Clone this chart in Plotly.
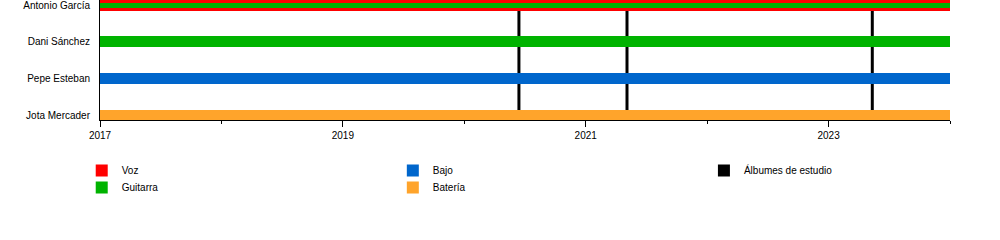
import plotly.graph_objects as go

# ---- data ----
members = ["Antonio García", "Dani Sánchez", "Pepe Esteban", "Jota Mercader"]
roles = ["Voz", "Guitarra", "Bajo", "Batería"]
voz_members = ["Antonio García"]
guitarra_members = ["Antonio García", "Dani Sánchez"]
bajo_members = ["Pepe Esteban"]
bateria_members = ["Jota Mercader"]
period_start = 2017.0
period_end = 2024.0
albums = [2020.45, 2021.34, 2023.36]
album_label = "Álbumes de estudio"
year_ticks = [2017, 2019, 2021, 2023]

colors = {"Voz": "#FF0000", "Guitarra": "#00B300", "Bajo": "#0066CC", "Batería": "#FFA42B"}

ypos = {m: len(members) - 1 - i for i, m in enumerate(members)}
FONT = dict(family="Liberation Sans, Arial, sans-serif", size=10, color="black")

BAR_W = 0.30
INNER_W = 0.128

fig = go.Figure()


def add_role(role, mlist, legend):
    widths = []
    for m in mlist:
        # second role of a member is drawn as a thin inner stripe
        if role == "Guitarra" and m in voz_members:
            widths.append(INNER_W)
        else:
            widths.append(BAR_W)
    fig.add_trace(go.Bar(
        name=role, orientation="h",
        y=[ypos[m] for m in mlist],
        base=[period_start] * len(mlist),
        x=[period_end - period_start] * len(mlist),
        width=widths,
        marker=dict(color=colors[role], line=dict(width=0)),
        legend=legend, hoverinfo="skip",
    ))


add_role("Voz", voz_members, "legend")
add_role("Guitarra", guitarra_members, "legend2")
add_role("Bajo", bajo_members, "legend3")
add_role("Batería", bateria_members, "legend4")
fig.add_trace(go.Bar(name=album_label, orientation="h", x=[None], y=[None],
                     marker=dict(color="black", line=dict(width=0)), legend="legend5"))

for a in albums:
    fig.add_shape(type="line", x0=a, x1=a, xref="x", y0=0, y1=1, yref="paper",
                  line=dict(color="black", width=3), layer="below")

leg_common = dict(orientation="v", yanchor="top", xanchor="left", font=FONT,
                  bgcolor="rgba(0,0,0,0)", itemwidth=30, tracegroupgap=0,
                  itemclick=False, itemdoubleclick=False)

ROW1 = -0.30
ROW2 = -0.4417
COL1, COL2, COL3 = -0.0215, 0.3445, 0.7105

fig.update_layout(
    width=1000, height=240,
    margin=dict(l=100, r=50, t=0, b=120),
    paper_bgcolor="white", plot_bgcolor="white",
    barmode="overlay", bargap=0,
    font=FONT,
    showlegend=True,
    legend=dict(x=COL1, y=ROW1, **leg_common),
    legend2=dict(x=COL1, y=ROW2, **leg_common),
    legend3=dict(x=COL2, y=ROW1, **leg_common),
    legend4=dict(x=COL2, y=ROW2, **leg_common),
    legend5=dict(x=COL3, y=ROW1, **leg_common),
    xaxis=dict(range=[period_start, period_end], tickvals=year_ticks,
               ticktext=[str(y) for y in year_ticks],
               ticks="outside", ticklen=6, tickwidth=1, tickcolor="black",
               minor=dict(dtick=1, ticks="outside", ticklen=3, tickcolor="black", tickwidth=1),
               showline=True, linecolor="black", linewidth=1, showgrid=False,
               zeroline=False, tickfont=FONT, fixedrange=True),
    yaxis=dict(range=[-0.135, 3.144], tickvals=[ypos[m] for m in members], ticktext=members,
               ticks="", showline=True, linecolor="black", linewidth=1, showgrid=False,
               zeroline=False, tickfont=FONT, ticklabelstandoff=7, ticklabeloverflow="allow",
               fixedrange=True),
)

fig.write_html("out.html", config={"displayModeBar": False})
